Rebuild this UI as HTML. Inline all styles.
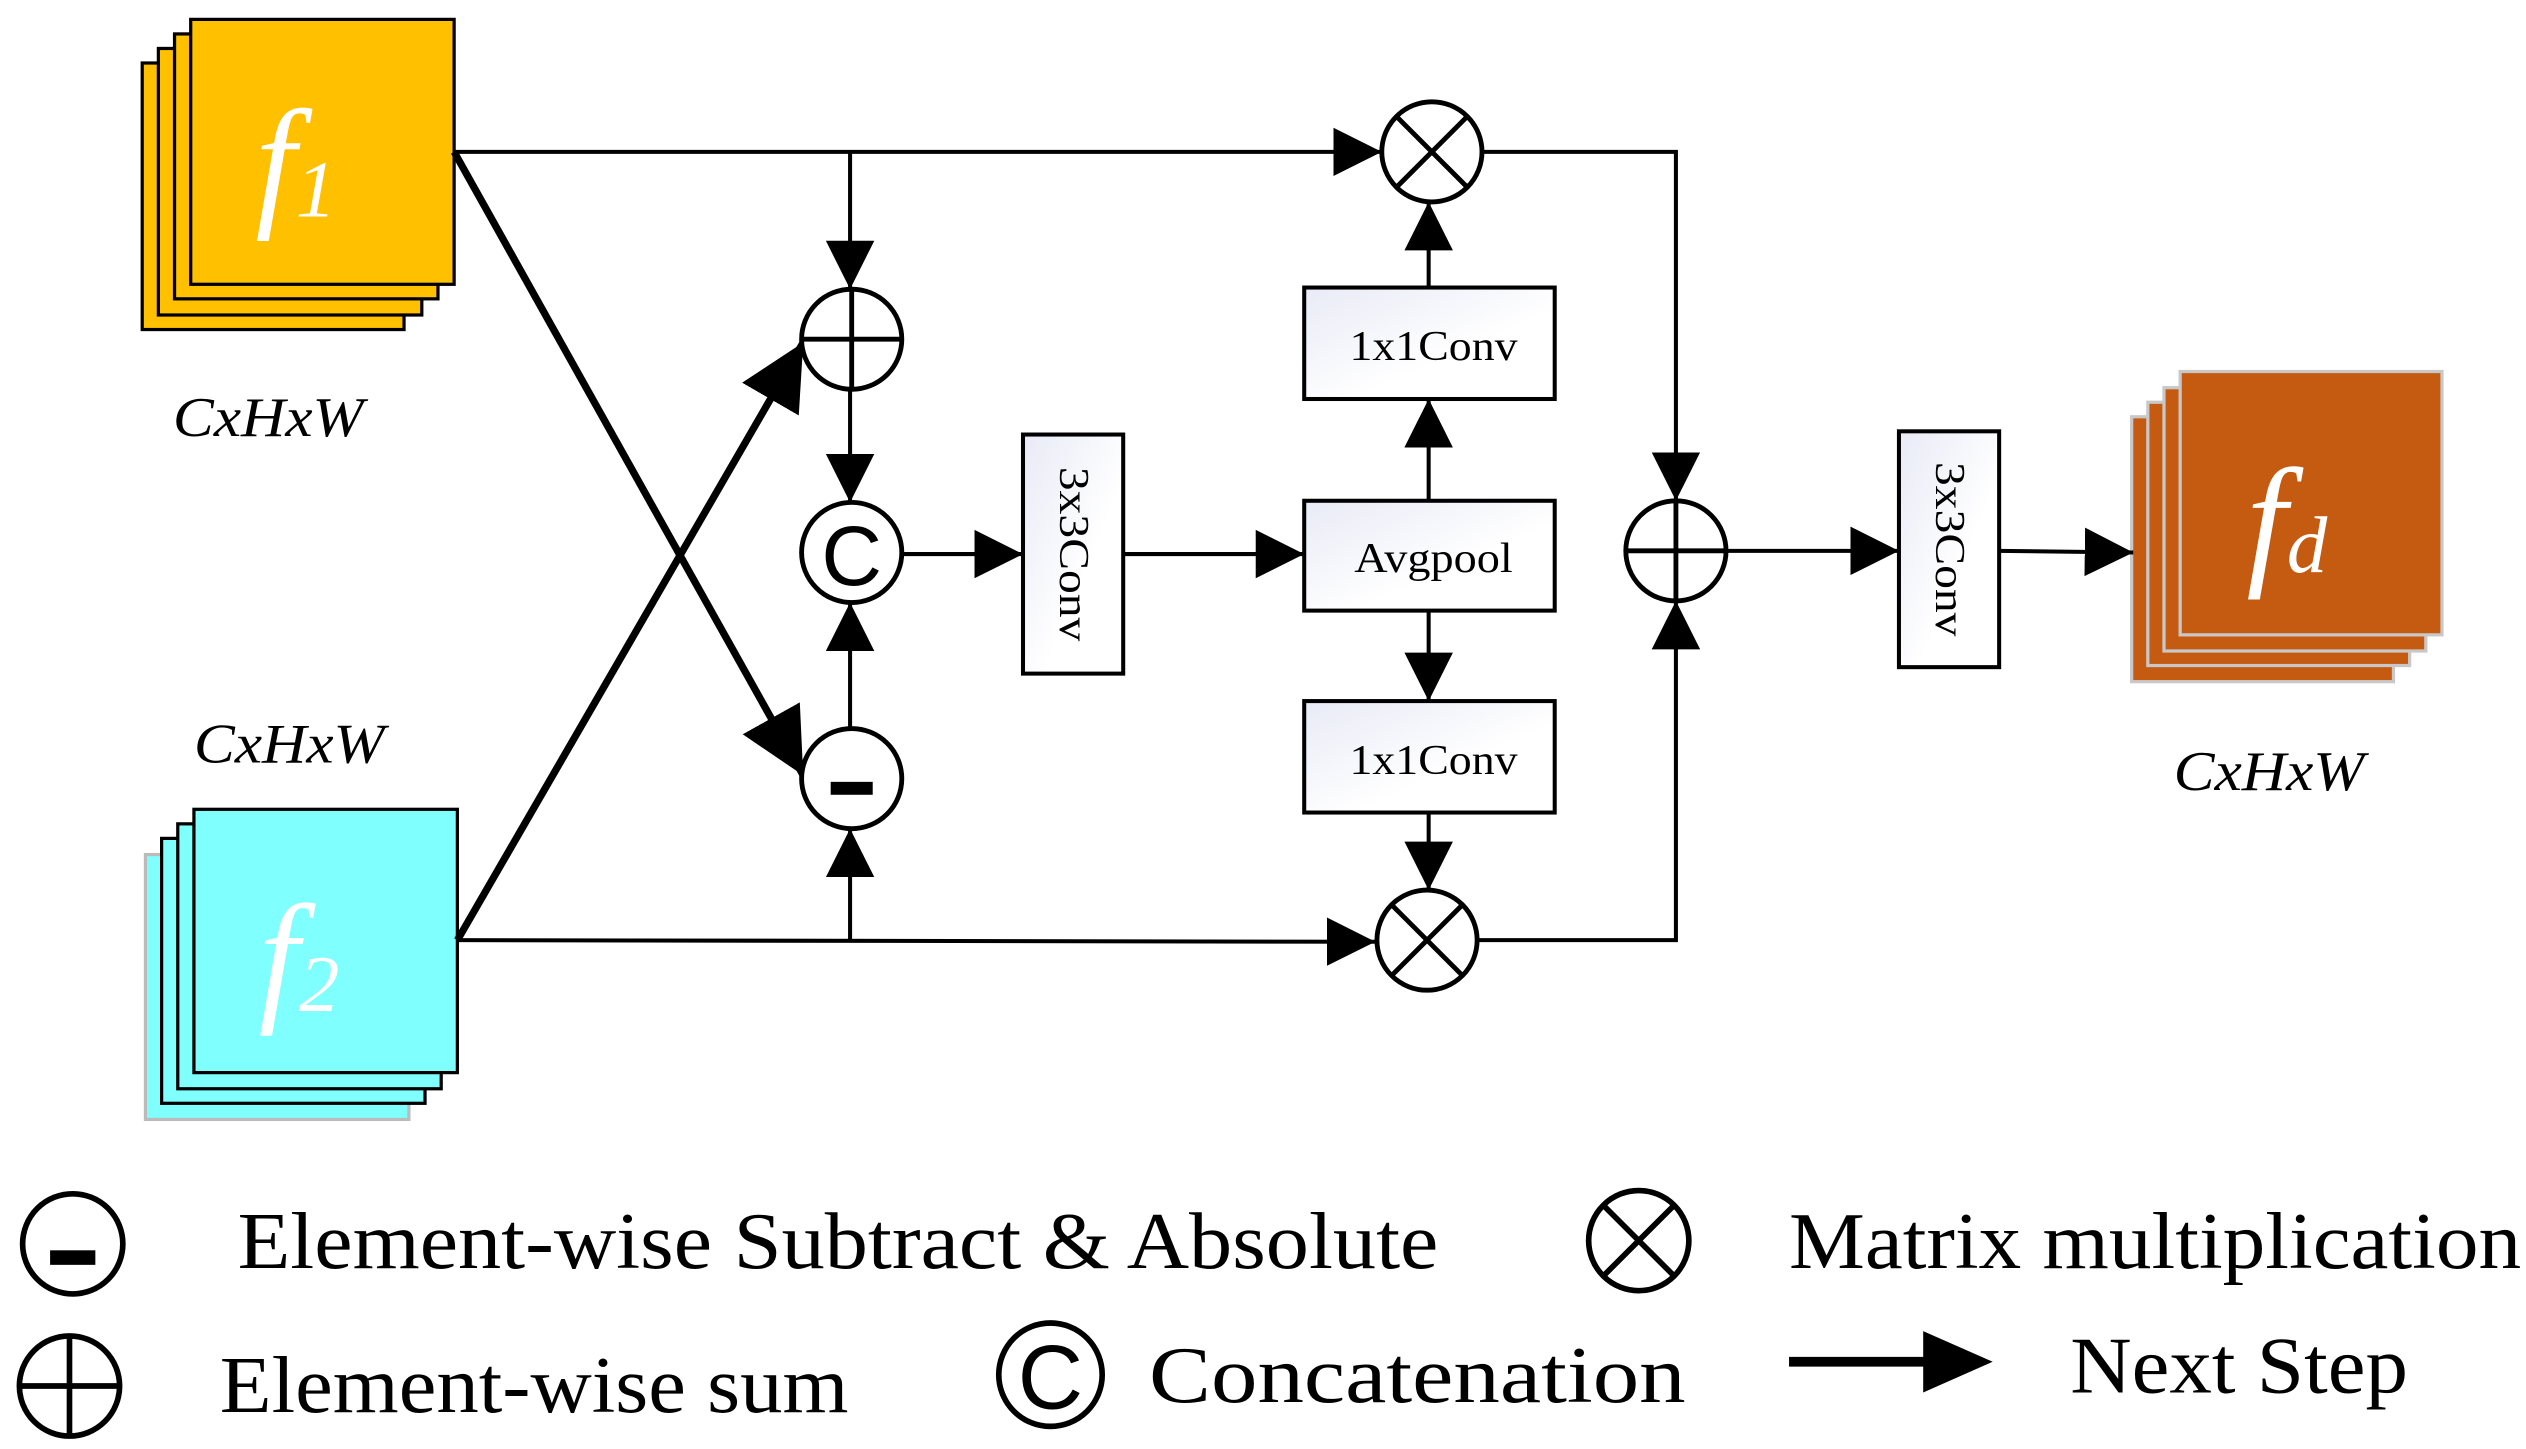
<!DOCTYPE html>
<html><head><meta charset="utf-8"><style>html,body{margin:0;padding:0;background:#fff;overflow:hidden}svg{display:block}</style></head>
<body>
<svg width="2526" height="1449" viewBox="0 0 1563 897" preserveAspectRatio="none" xmlns="http://www.w3.org/2000/svg" font-family="'Liberation Serif', serif">
<defs>
<marker id="a" viewBox="0 0 10 10" refX="10" refY="5" markerWidth="30" markerHeight="30" markerUnits="userSpaceOnUse" orient="auto"><path d="M0,0L10,5L0,10z" fill="#000"/></marker>
<marker id="b" viewBox="0 0 10 10" refX="10" refY="5" markerWidth="9" markerHeight="9" orient="auto"><path d="M0,0L10,5L0,10z" fill="#000"/></marker>
<linearGradient id="g" x1="0" y1="0" x2="1" y2="1"><stop offset="0" stop-color="#e8eaf6"/><stop offset="0.6" stop-color="#fff"/></linearGradient>
</defs>
<g stroke="#000" stroke-width="2">
<rect x="88" y="39" width="162" height="165" fill="#FFC000"/>
<rect x="98" y="30" width="163" height="165" fill="#FFC000"/>
<rect x="108" y="21" width="163" height="164" fill="#FFC000"/>
<rect x="118" y="12" width="163" height="164" fill="#FFC000"/>
<rect x="90" y="529" width="163" height="164" fill="#80FFFF" stroke="#bbb"/>
<rect x="100" y="519" width="163" height="164" fill="#80FFFF"/>
<rect x="110" y="510" width="163" height="164" fill="#80FFFF"/>
<rect x="120" y="501" width="163" height="163" fill="#80FFFF"/>
<g stroke="#c8c8c8"><rect x="1319" y="258" width="162" height="164" fill="#C55A11"/>
<rect x="1329" y="249" width="162" height="163" fill="#C55A11"/>
<rect x="1339" y="240" width="162" height="163" fill="#C55A11"/>
<rect x="1349" y="230" width="162" height="163" fill="#C55A11"/></g>
</g>
<g fill="#fff" font-style="italic">
<text x="158" y="130" font-size="90">f<tspan font-size="50" dy="4">1</tspan></text>
<text x="160" y="622" font-size="90">f<tspan font-size="50" dy="4">2</tspan></text>
<text x="1390" y="352" font-size="90">f<tspan font-size="50" dy="2">d</tspan></text>
</g>
<g font-style="italic" font-size="35" fill="#000">
<text x="107" y="270" textLength="118" lengthAdjust="spacingAndGlyphs">CxHxW</text>
<text x="120" y="472" textLength="118" lengthAdjust="spacingAndGlyphs">CxHxW</text>
<text x="1345" y="489" textLength="118" lengthAdjust="spacingAndGlyphs">CxHxW</text>
</g>
<g stroke="#000" stroke-width="2.5" fill="none">
<line x1="281" y1="94" x2="855" y2="94" marker-end="url(#a)"/>
<line x1="526" y1="94" x2="526" y2="179" marker-end="url(#a)"/>
<line x1="526" y1="241" x2="526" y2="311" marker-end="url(#a)"/>
<line x1="526" y1="451" x2="526" y2="373" marker-end="url(#a)"/>
<line x1="283" y1="582" x2="851" y2="583" marker-end="url(#a)"/>
<line x1="526" y1="582" x2="526" y2="513" marker-end="url(#a)"/>
<line x1="558" y1="343" x2="633" y2="343" marker-end="url(#a)"/>
<line x1="695" y1="343" x2="807" y2="343" marker-end="url(#a)"/>
<line x1="884" y1="310" x2="884" y2="247" marker-end="url(#a)"/>
<line x1="884" y1="178" x2="884" y2="125" marker-end="url(#a)"/>
<line x1="884" y1="378" x2="884" y2="434" marker-end="url(#a)"/>
<line x1="884" y1="503" x2="884" y2="551" marker-end="url(#a)"/>
<polyline points="917,94 1037,94 1037,310" marker-end="url(#a)"/>
<polyline points="914,582 1037,582 1037,372" marker-end="url(#a)"/>
<line x1="1068" y1="341" x2="1175" y2="341" marker-end="url(#a)"/>
<line x1="1237" y1="341" x2="1320" y2="342" marker-end="url(#a)"/>
</g>
<g stroke="#000" stroke-width="4.5">
<line x1="281" y1="94" x2="497" y2="480" marker-end="url(#b)"/>
<line x1="283" y1="582" x2="497" y2="212" marker-end="url(#b)"/>
</g>
<g stroke="#000" stroke-width="3" fill="#fff">
<circle cx="886" cy="94" r="31"/><path d="M864,72L908,116M908,72L864,116"/>
<circle cx="883" cy="582" r="31"/><path d="M861,560L905,604M905,560L861,604"/>
<circle cx="527" cy="210" r="31"/><path d="M496,210H558M527,179V241"/>
<circle cx="1037" cy="341" r="31"/><path d="M1006,341H1068M1037,310V372"/>
<circle cx="527" cy="342" r="31"/>
<circle cx="527" cy="482" r="31"/>
</g>
<rect x="514" y="484" width="26" height="8" fill="#000"/>
<text x="527" y="362" text-anchor="middle" font-family="'Liberation Sans', sans-serif" font-size="52">C</text>
<g stroke="#000" stroke-width="2.5" fill="url(#g)">
<rect x="633" y="269" width="62" height="148"/>
<rect x="807" y="310" width="155" height="68"/>
<rect x="807" y="178" width="155" height="69"/>
<rect x="807" y="434" width="155" height="69"/>
<rect x="1175" y="267" width="62" height="146"/>
</g>
<g font-size="26" text-anchor="middle" fill="#000">
<text x="887" y="223" textLength="104" lengthAdjust="spacingAndGlyphs">1x1Conv</text>
<text x="887" y="354" textLength="98" lengthAdjust="spacingAndGlyphs">Avgpool</text>
<text x="887" y="479" textLength="104" lengthAdjust="spacingAndGlyphs">1x1Conv</text>
<text transform="translate(656,343) rotate(90)" textLength="108" lengthAdjust="spacingAndGlyphs">3x3Conv</text>
<text transform="translate(1198,340) rotate(90)" textLength="108" lengthAdjust="spacingAndGlyphs">3x3Conv</text>
</g>
<g stroke="#000" stroke-width="3.5" fill="none">
<circle cx="45" cy="770" r="31"/>
<circle cx="1014" cy="768" r="31"/><path d="M992,746L1036,790M1036,746L992,790"/>
<circle cx="43" cy="858" r="31"/><path d="M12,858H74M43,827V889"/>
<circle cx="650" cy="851" r="32"/>
</g>
<rect x="31" y="774" width="28" height="9" fill="#000"/>
<text x="650" y="872" text-anchor="middle" font-family="'Liberation Sans', sans-serif" font-size="56">C</text>
<line x1="1107" y1="843" x2="1195" y2="843" stroke="#000" stroke-width="6"/>
<path d="M1190,824L1233,843L1190,862z" fill="#000"/>
<g font-size="50" fill="#000" lengthAdjust="spacingAndGlyphs">
<text x="147" y="785" textLength="743" lengthAdjust="spacingAndGlyphs">Element-wise Subtract &amp; Absolute</text>
<text x="1107" y="785" textLength="453" lengthAdjust="spacingAndGlyphs">Matrix multiplication</text>
<text x="136" y="874" textLength="389" lengthAdjust="spacingAndGlyphs">Element-wise sum</text>
<text x="711" y="868" textLength="332" lengthAdjust="spacingAndGlyphs">Concatenation</text>
<text x="1281" y="862" textLength="209" lengthAdjust="spacingAndGlyphs">Next Step</text>
</g>
</svg>
</body></html>
